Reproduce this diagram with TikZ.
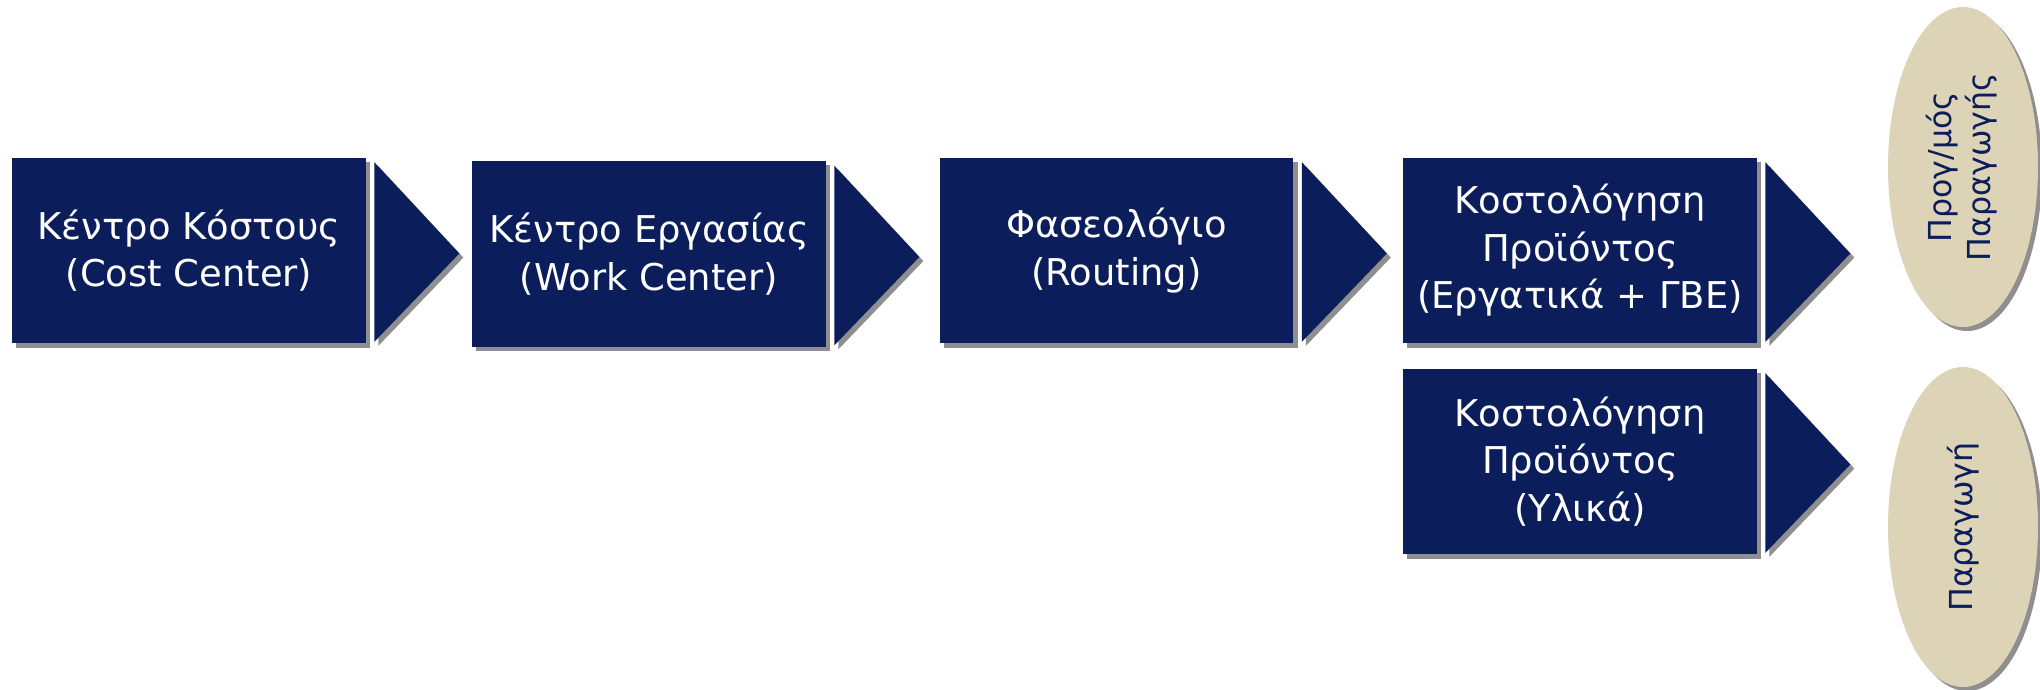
\documentclass[tikz,border=0pt]{standalone}
\usepackage{fontspec}
\setmainfont{DejaVu Sans}
\usetikzlibrary{calc}
\usetikzlibrary{shadows}
\usetikzlibrary{shapes.geometric}
\usepackage{xcolor}
\definecolor{navy}{HTML}{0B1E5B}
\definecolor{sand}{HTML}{DDD3B6}

\tikzset{
  myshadow/.style={drop shadow={shadow xshift=2.3pt,shadow yshift=-2.3pt,fill=black!55,opacity=.8}},
  stepbox/.style={fill=navy,text=white,minimum width=7.08cm,minimum height=3.72cm,
    inner sep=0pt,align=center,font=\fontsize{21}{27}\selectfont,myshadow},
  steptri/.style={fill=navy,myshadow},
  oval/.style={ellipse,fill=sand,text=navy,minimum width=3cm,minimum height=6.4cm,
    inner sep=0pt,font=\fontsize{18}{22}\selectfont,myshadow}
}

\begin{document}
\begin{tikzpicture}[x=0.02cm,y=-0.02cm]
\useasboundingbox (0,0) rectangle (2040,690);
% the chain of steps
\node[stepbox] (b1) at (189,250.5) {Κέντρο Κόστους\\(Cost Center)};
\node[stepbox] (b2) at (649,254) {Κέντρο Εργασίας\\(Work Center)};
\node[stepbox] (b3) at (1116.5,250.5) {Φασεολόγιο\\(Routing)};
\node[stepbox] (b4) at (1580,250.5) {Κοστολόγηση\\Προϊόντος\\(Εργατικά + ΓΒΕ)};
\node[stepbox] (b5) at (1580,461.5) {Κοστολόγηση\\Προϊόντος\\(Υλικά)};
% arrow heads
\foreach \b in {b1,b2,b3,b4,b5}
  \fill[steptri] ($(\b.north east)+(8,5)$) -- ($(\b.east)+(93,3)$)
    -- ($(\b.south east)+(8,-2)$) -- cycle;
% results
\node[oval] (plan) at (1963,167) {\rotatebox{90}{\begin{tabular}{@{}c@{}}Προγ/μός\\Παραγωγής\end{tabular}}};
\node[oval] (prod) at (1963,527) {\rotatebox{90}{Παραγωγή}};
\end{tikzpicture}
\end{document}
